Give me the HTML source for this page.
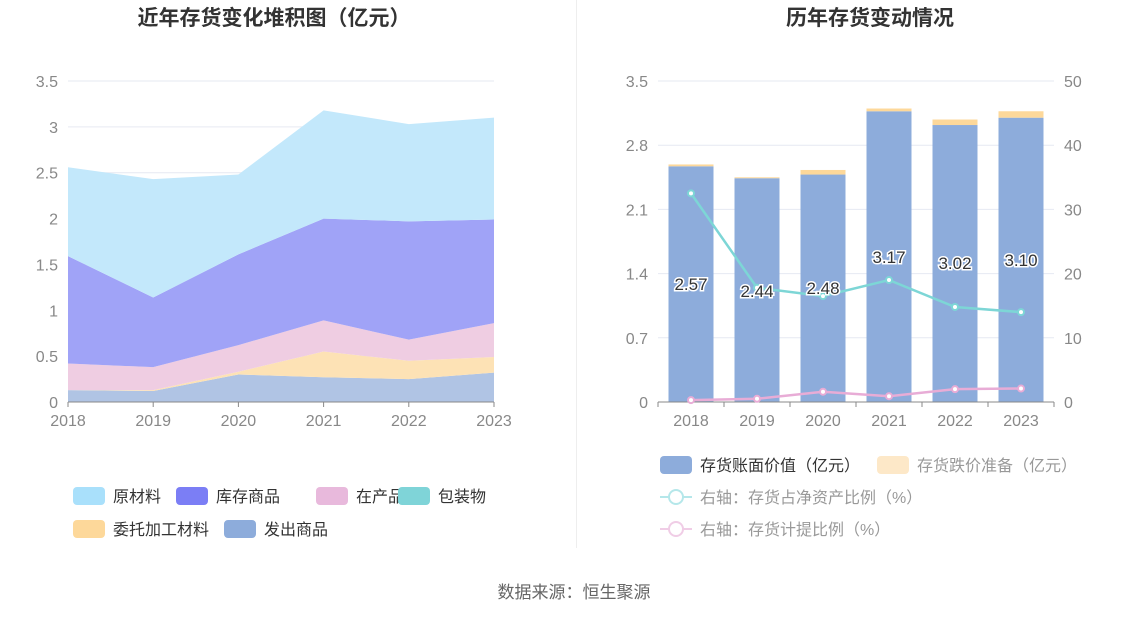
<!DOCTYPE html>
<html><head><meta charset="utf-8">
<style>
body{margin:0;background:#fff;width:1148px;height:619px;overflow:hidden;font-family:"Liberation Sans","Noto Sans CJK SC",sans-serif;}
svg text{font-family:"Liberation Sans","Noto Sans CJK SC",sans-serif;}
</style></head>
<body>
<svg id="s" width="1148" height="619" xmlns="http://www.w3.org/2000/svg">
<text x="274" y="25" text-anchor="middle" font-size="21" font-weight="bold" fill="#333">近年存货变化堆积图（亿元）</text>
<text x="870" y="25" text-anchor="middle" font-size="21" font-weight="bold" fill="#333">历年存货变动情况</text>
<line x1="576.5" y1="0" x2="576.5" y2="548" stroke="#eee"/>
<g id="left"></g>
<g id="right"></g>
<g id="legends"></g>
<text x="574" y="598" text-anchor="middle" font-size="17" fill="#666">数据来源：恒生聚源</text>
</svg>
<script>
const years = ["2018","2019","2020","2021","2022","2023"];
const faChu = [0.13,0.12,0.30,0.27,0.25,0.32];
const weiTuo = [0.0,0.01,0.03,0.28,0.20,0.17];
const baoZhuang = [0,0,0,0,0,0];
const zaiChan = [0.29,0.25,0.29,0.34,0.23,0.37];
const kuCun = [1.17,0.76,0.99,1.11,1.29,1.13];
const yuanCai = [0.97,1.29,0.87,1.18,1.06,1.11];
const leftTicks = ["0","0.5","1","1.5","2","2.5","3","3.5"];
const bookValue = [2.57,2.44,2.48,3.17,3.02,3.10];
const reserve = [0.02,0.01,0.05,0.03,0.06,0.07];
const netAssetRatio = [32.5,17.8,16.5,19.0,14.8,14.0];
const provisionRatio = [0.3,0.5,1.6,0.9,2.0,2.1];
const rightTicksL = ["0","0.7","1.4","2.1","2.8","3.5"];
const rightTicksR = ["0","10","20","30","40","50"];

const NS="http://www.w3.org/2000/svg";
function mk(parent,tag,attrs){const e=document.createElementNS(NS,tag);for(const k in attrs)e.setAttribute(k,attrs[k]);parent.appendChild(e);return e;}
const Y0=402,Y1=81;
// LEFT
const L=document.getElementById('left');
const lx=i=>68+i*(494-68)/(years.length-1);
const ly=v=>Y0-(v/3.5)*(Y0-Y1);
leftTicks.forEach(t=>{const v=parseFloat(t);
 if(v>0){const g=mk(L,'line',{x1:68,x2:494,y1:ly(v),y2:ly(v),stroke:'#e6e9f2'});
 
 }
 const tx=mk(L,'text',{x:58,y:ly(v)+6,'text-anchor':'end','font-size':16,fill:'#888'});tx.textContent=t;
 
 });
const layers=[[faChu,'#b0c4e4','fachu'],[weiTuo,'#fde2b5','weituo'],[baoZhuang,'#8fd8dc','baozhuang'],[zaiChan,'#efcde2','zaichan'],[kuCun,'#a0a3f7','kucun'],[yuanCai,'#c3e8fb','yuancai']];
let base=years.map(()=>0);
layers.forEach(([arr,col,nm])=>{
 const top=base.map((b,i)=>b+arr[i]);
 let d='M'+top.map((v,i)=>lx(i)+','+ly(v)).join('L');
 for(let i=years.length-1;i>=0;i--)d+='L'+lx(i)+','+ly(base[i]);
 const p=mk(L,'path',{d:d+'Z',fill:col});
 
 
 base=top;});
mk(L,'line',{x1:68,x2:494,y1:Y0,y2:Y0,stroke:'#888'});
years.forEach((y,i)=>{mk(L,'line',{x1:lx(i),x2:lx(i),y1:Y0,y2:Y0+5,stroke:'#888'});
 const t=mk(L,'text',{x:lx(i),y:Y0+24,'text-anchor':'middle','font-size':16,fill:'#888'});t.textContent=y;
 
 });
// RIGHT
const R=document.getElementById('right');
const X0=658,X1=1054,bw=(X1-X0)/years.length;
const rx=i=>X0+bw*(i+0.5);
const ry=v=>Y0-(v/3.5)*(Y0-Y1);
const ry2=v=>Y0-(v/50)*(Y0-Y1);
rightTicksL.forEach((t,k)=>{const v=parseFloat(t);
 if(v>0){const g=mk(R,'line',{x1:X0,x2:X1,y1:ry(v),y2:ry(v),stroke:'#e6e9f2'});
 
 }
 const tx=mk(R,'text',{x:648,y:ry(v)+6,'text-anchor':'end','font-size':16,fill:'#888'});tx.textContent=t;
 
 
 const t2=mk(R,'text',{x:1064,y:ry2(parseFloat(rightTicksR[k]))+6,'font-size':16,fill:'#888'});t2.textContent=rightTicksR[k];
 
 });
years.forEach((y,i)=>{
 const b=mk(R,'rect',{x:rx(i)-22.5,y:ry(bookValue[i]),width:45,height:Y0-ry(bookValue[i]),fill:'#8dacdb'});
 
 
 const r=mk(R,'rect',{x:rx(i)-22.5,y:ry(bookValue[i]+reserve[i]),width:45,height:ry(bookValue[i])-ry(bookValue[i]+reserve[i]),fill:'#fdd89a'});
 
 });
mk(R,'line',{x1:X0,x2:X1,y1:Y0,y2:Y0,stroke:'#888'});
years.forEach((y,i)=>{mk(R,'line',{x1:X0+bw*i,x2:X0+bw*i,y1:Y0,y2:Y0+5,stroke:'#888'});
 const t=mk(R,'text',{x:rx(i),y:Y0+24,'text-anchor':'middle','font-size':16,fill:'#888'});t.textContent=y;
 
 });
mk(R,'line',{x1:X1,x2:X1,y1:Y0,y2:Y0+5,stroke:'#888'});
[[netAssetRatio,'#7dd6d6','net-asset-ratio'],[provisionRatio,'#e8acd6','provision-ratio']].forEach(([arr,col,nm])=>{
 const p=mk(R,'polyline',{points:arr.map((v,i)=>rx(i)+','+ry2(v)).join(' '),fill:'none',stroke:col,'stroke-width':2.5});
 
 
 arr.forEach((v,i)=>{const c=mk(R,'circle',{cx:rx(i),cy:ry2(v),r:3,fill:'#fff',stroke:col,'stroke-width':2});
 
 });});
const labY=[283,290,287,256,262,259];
bookValue.forEach((v,i)=>{const t=mk(R,'text',{x:rx(i),y:labY[i]+7,'text-anchor':'middle','font-size':17,fill:'#333',stroke:'#fff','stroke-width':3,'paint-order':'stroke'});t.textContent=v.toFixed(2);
 
 });
// LEGENDS
const G=document.getElementById('legends');
function box(x,y,col,label,tc,nm){const r=mk(G,'rect',{x:x,y:y-9,width:32,height:18,rx:4,fill:col});
 
 
 const t=mk(G,'text',{x:x+40,y:y+6,'font-size':16,fill:tc});t.textContent=label;
 
 }
box(73,496,'#a9e0fb','原材料','#333','legend-yuancai');
box(176,496,'#7b7ef5','库存商品','#333','legend-kucun');
box(316,496,'#e8b9dc','在产品','#333','legend-zaichan');
box(398,496,'#7fd4d8','包装物','#333','legend-baozhuang');
box(73,529,'#fdd89a','委托加工材料','#333','legend-weituo');
box(224,529,'#8dacdb','发出商品','#333','legend-fachu');
box(660,465,'#8dacdb','存货账面价值（亿元）','#333','legend-book-value');
box(877,465,'#fde8c8','存货跌价准备（亿元）','#999','legend-reserve');
function ln(y,col,label,nm){mk(G,'line',{x1:660,x2:692,y1:y,y2:y,stroke:col,'stroke-width':2});
 const c=mk(G,'circle',{cx:676,cy:y,r:7,fill:'#fff',stroke:col,'stroke-width':2});
 
 
 const t=mk(G,'text',{x:700,y:y+6,'font-size':16,fill:'#999'});t.textContent=label;
 
 }
ln(497,'#b5e7ea','右轴：存货占净资产比例（%）','legend-net-asset-ratio');
ln(529,'#f0cde6','右轴：存货计提比例（%）','legend-provision-ratio');
</script>
</body></html>
